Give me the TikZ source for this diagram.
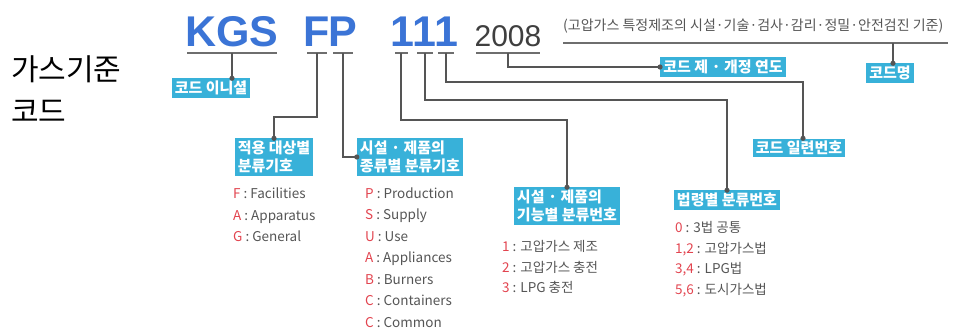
\documentclass[tikz,border=0pt]{standalone}
\usepackage{fontspec}
\setmainfont{Liberation Sans}
\newfontfamily\kr{Noto Sans CJK KR}
\definecolor{boxc}{HTML}{38B1D9}
\definecolor{titlec}{HTML}{3B74D6}
\definecolor{yearc}{HTML}{3F3F3F}
\definecolor{linec}{HTML}{555555}
\definecolor{redc}{HTML}{E2444F}
\definecolor{txtc}{HTML}{555555}
\tikzset{
  titletxt/.style={inner sep=0pt, anchor=base, text=titlec, font=\fontsize{43}{43}\selectfont\bfseries},
  uline/.style={draw=linec!85, line width=1.2pt},
  conn/.style={draw=linec, line width=1.2pt},
  lbl/.style={fill=boxc, text=white, font=\kr\fontsize{15}{18}\selectfont\bfseries, inner xsep=3pt, inner ysep=2.5pt, align=left},
  item/.style={anchor=base west, inner sep=0pt, text=txtc, font=\kr\fontsize{13.5}{16}\selectfont},
}
\newcommand{\dotat}[1]{\fill[linec] (#1) circle (2.6pt);}
\newcommand{\rk}[1]{\textcolor{redc}{#1}}
\begin{document}
\begin{tikzpicture}[x=1pt,y=-1pt]
\useasboundingbox (0,0) rectangle (954,331);
% left title
\node[anchor=base west, inner sep=0pt, font=\kr\fontsize{30}{30}\selectfont] (lt1) at (11,81) {가스기준};
\node[anchor=base west, inner sep=0pt, font=\kr\fontsize{30}{30}\selectfont] (lt2) at (11,123) {코드};
% code title
\node[titletxt] (tK) at (232,47) {KGS};
\node[titletxt] (tF) at (317,47) {F};
\node[titletxt] (tP) at (343,47) {P};
\node[titletxt] (t1a) at (402,47) {1};
\node[titletxt] (t1b) at (424,47) {1};
\node[titletxt] (t1c) at (446,47) {1};
\node[inner sep=0pt, anchor=base, text=yearc, font=\fontsize{30}{30}\selectfont] (tY) at (508,47) {2008};
\node[inner sep=0pt, anchor=base west, text=txtc, font=\kr\fontsize{14}{14}\selectfont] (tD) at (563,31) {(고압가스 특정제조의 시설·기술·검사·감리·정밀·안전검진 기준)};
% underlines
\coordinate (uK) at (232,53);
\coordinate (uF) at (317,53);
\coordinate (uP) at (343,53);
\coordinate (u1a) at (401,53);
\coordinate (u1b) at (425,53);
\coordinate (u1c) at (446,53);
\coordinate (uY) at (508,53);
\coordinate (uD) at (893,43);
\draw[uline] (187,53) -- (277,53);
\draw[uline] (307,53) -- (327,53);
\draw[uline] (333,53) -- (353,53);
\draw[uline] (395,53) -- (408,53);
\draw[uline] (417,53) -- (433,53);
\draw[uline] (438,53) -- (454,53);
\draw[uline] (476,53) -- (540,53);
\draw[uline] (563,43) -- (948,43);
% label boxes
\node[lbl] (bK) at (211,88) {코드 이니셜};
\node[lbl] (bY) at (723,67) {코드 제 · 개정 연도};
\node[lbl] (bN) at (890,73) {코드명};
\node[lbl] (bF) at (274,157) {적용 대상별\\분류기호};
\node[lbl] (bP) at (410,157) {시설 · 제품의\\종류별 분류기호};
\node[lbl] (bU) at (567,206) {시설 · 제품의\\기능별 분류번호};
\node[lbl] (bL) at (727,200) {법령별 분류번호};
\node[lbl] (bS) at (799,148) {코드 일련번호};
% connectors
\draw[conn] (uK) -- (uK |- bK.north);
\dotat{uK |- bK.north}
\draw[conn] (uF) -- ++(0,64) -| (bF.north);
\dotat{bF.north}
\draw[conn] (uP) |- (bP.west);
\dotat{bP.west}
\draw[conn] (u1a) -- ++(0,67) -| (bU.north);
\dotat{bU.north}
\draw[conn] (u1b) -- ++(0,47) -| (bL.north);
\dotat{bL.north}
\draw[conn] (u1c) -- ++(0,29) -| ([xshift=4pt]bS.north);
\dotat{[xshift=4pt]bS.north}
\draw[conn] (uY) |- (bY.west);
\dotat{bY.west}
\draw[conn] (uD) -- (uD |- bN.north);
\dotat{uD |- bN.north}
% lists
\node[item] (f1) at (233,199) {\rk{F} : Facilities};
\node[item] (f2) at (233,221) {\rk{A} : Apparatus};
\node[item] (f3) at (233,242) {\rk{G} : General};
\node[item] (p1) at (365,199) {\rk{P} : Production};
\node[item] (p2) at (365,220) {\rk{S} : Supply};
\node[item] (p3) at (365,242) {\rk{U} : Use};
\node[item] (p4) at (365,263) {\rk{A} : Appliances};
\node[item] (p5) at (365,285) {\rk{B} : Burners};
\node[item] (p6) at (365,306) {\rk{C} : Containers};
\node[item] (p7) at (365,327) {\rk{C} : Common};
\node[item] (n1) at (502,252) {\rk{1} : 고압가스 제조};
\node[item] (n2) at (502,273) {\rk{2} : 고압가스 충전};
\node[item] (n3) at (502,293) {\rk{3} : LPG 충전};
\node[item] (l1) at (675,233) {\rk{0} : 3법 공통};
\node[item] (l2) at (675,254) {\rk{1,2} : 고압가스법};
\node[item] (l3) at (675,274) {\rk{3,4} : LPG법};
\node[item] (l4) at (675,295) {\rk{5,6} : 도시가스법};
\end{tikzpicture}
\end{document}
